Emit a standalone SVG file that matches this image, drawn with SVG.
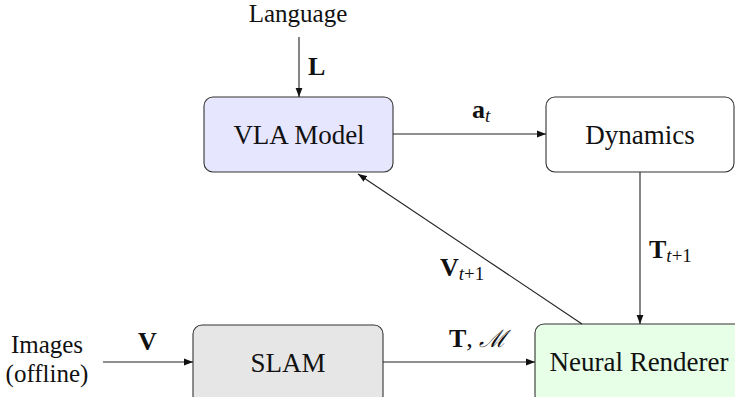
<svg xmlns="http://www.w3.org/2000/svg" width="735" height="397" viewBox="0 0 735 397">
<style>
.node{stroke:#333;stroke-width:1.1}
.t{font-size:27px;text-anchor:middle;fill:#111}
.s{font-size:25px;text-anchor:middle;fill:#111}
.m{font-size:26px;fill:#111}
.b{font-weight:bold}
.sub{font-style:italic;font-size:19px}
.up{font-size:19px}
.e{stroke:#222;stroke-width:1.1;fill:none}
</style>
<defs>
<marker id="ah" markerUnits="userSpaceOnUse" markerWidth="10" markerHeight="8" refX="9" refY="4" orient="auto">
<path d="M0,0.6 L9,4 L0,7.4 z" fill="#111"/>
</marker>
</defs>
<rect width="735" height="397" fill="#fff"/>
<g id="language"><text class="s" x="298" y="22" font-family="'Liberation Serif', serif">Language</text></g>
<g id="vla"><rect class="node" x="204" y="97" width="189" height="75" rx="9" fill="#e6e6ff"/><text class="t" x="299" y="144" font-family="'Liberation Serif', serif">VLA Model</text></g>
<g id="dynamics"><rect class="node" x="546" y="97" width="188" height="75" rx="9" fill="#fff"/><text class="t" x="640" y="144" font-family="'Liberation Serif', serif">Dynamics</text></g>
<g id="images"><text class="s" x="47" y="353" font-family="'Liberation Serif', serif">Images</text><text class="s" x="47" y="382" font-family="'Liberation Serif', serif">(offline)</text></g>
<g id="slam"><rect class="node" x="193" y="325" width="190" height="80" rx="9" fill="#e6e6e6"/><text class="t" x="288" y="372" font-family="'Liberation Serif', serif">SLAM</text></g>
<g id="renderer"><rect class="node" x="535" y="324" width="210" height="80" rx="9" fill="#e6ffe6"/><text class="t" x="639" y="371" font-family="'Liberation Serif', serif">Neural Renderer</text></g>
<g id="connectors">
<line class="e" x1="299" y1="37" x2="299" y2="97" marker-end="url(#ah)"/>
<line class="e" x1="393" y1="134" x2="546" y2="134" marker-end="url(#ah)"/>
<line class="e" x1="640" y1="172" x2="640" y2="324" marker-end="url(#ah)"/>
<line class="e" x1="582" y1="324" x2="358" y2="174" marker-end="url(#ah)"/>
<line class="e" x1="103" y1="362" x2="193" y2="362" marker-end="url(#ah)"/>
<line class="e" x1="383" y1="362" x2="535" y2="362" marker-end="url(#ah)"/>
<text class="m b" x="308" y="75" font-family="'Liberation Serif', serif">L</text>
<text class="m" x="472" y="118" font-family="'Liberation Serif', serif"><tspan class="b">a</tspan><tspan class="sub" dy="4">t</tspan></text>
<text class="m" x="649" y="258" font-family="'Liberation Serif', serif"><tspan class="b">T</tspan><tspan class="sub" dy="4">t</tspan><tspan class="up">+1</tspan></text>
<text class="m" x="440" y="276" font-family="'Liberation Serif', serif"><tspan class="b">V</tspan><tspan class="sub" dy="4">t</tspan><tspan class="up">+1</tspan></text>
<text class="m b" x="138" y="350" font-family="'Liberation Serif', serif">V</text>
<text class="m" x="449" y="347" font-family="'Liberation Serif', serif"><tspan class="b">T</tspan><tspan>, </tspan><tspan font-style="italic" font-size="24">ℳ</tspan></text>
</g>
</svg>
